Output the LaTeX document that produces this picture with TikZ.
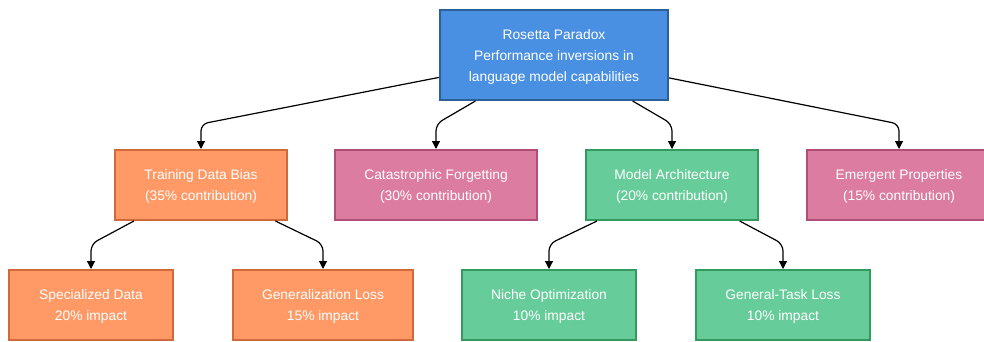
\documentclass[tikz,border=0pt]{standalone}
\usepackage{fontspec}
\setmainfont{Liberation Sans}
\usetikzlibrary{arrows.meta,calc}
\definecolor{rootfill}{HTML}{4A90E2}
\definecolor{rootdraw}{HTML}{2D5F99}
\definecolor{orfill}{HTML}{FF9966}
\definecolor{ordraw}{HTML}{D2693A}
\definecolor{pkfill}{HTML}{DB7CA0}
\definecolor{pkdraw}{HTML}{B04D78}
\definecolor{grfill}{HTML}{66CC99}
\definecolor{grdraw}{HTML}{33995F}
\tikzset{
  box/.style={draw, line width=2pt, text=white, align=center, inner sep=0pt,
    font=\fontsize{13.8}{21}\selectfont, minimum height=70pt},
  rootbox/.style={box, fill=rootfill, draw=rootdraw, minimum width=228pt, minimum height=90pt},
  orbox/.style={box, fill=orfill, draw=ordraw},
  pkbox/.style={box, fill=pkfill, draw=pkdraw},
  grbox/.style={box, fill=grfill, draw=grdraw},
  txt/.style={text=white, align=center, inner sep=0pt, font=\fontsize{13.8}{21}\selectfont},
  link/.style={draw, line width=1.2pt, rounded corners=7pt, -{Triangle[length=8pt,width=8pt]}}
}
\begin{document}
\begin{tikzpicture}[x=1pt,y=-1pt]
\useasboundingbox (0,0) rectangle (984,341);
\clip (0,0) rectangle (984,341);
\node[rootbox] (root) at (554,55) {};
\node[txt] (roott) at (554,56.5) {Rosetta Paradox\\Performance inversions in\\language model capabilities};
\node[orbox, minimum width=172pt] (tdb) at (201,185) {};
\node[txt] (tdbt) at (201,186.5) {Training Data Bias\\(35\% contribution)};
\node[pkbox, minimum width=202pt] (cf) at (436,185) {};
\node[txt] (cft) at (436,186.5) {Catastrophic Forgetting\\(30\% contribution)};
\node[grbox, minimum width=172pt] (ma) at (672,185) {};
\node[txt] (mat) at (672,186.5) {Model Architecture\\(20\% contribution)};
\node[pkbox, minimum width=184pt] (ep) at (899,185) {};
\node[txt] (ept) at (899,186.5) {Emergent Properties\\(15\% contribution)};
\node[orbox, minimum width=164pt] (sd) at (91,305) {};
\node[txt] (sdt) at (91,306.5) {Specialized Data\\20\% impact};
\node[orbox, minimum width=180pt] (gl) at (323,305) {};
\node[txt] (glt) at (323,306.5) {Generalization Loss\\15\% impact};
\node[grbox, minimum width=174pt] (no) at (549,305) {};
\node[txt] (not) at (549,306.5) {Niche Optimization\\10\% impact};
\node[grbox, minimum width=174pt] (gt) at (783,305) {};
\node[txt] (gtt) at (783,306.5) {General-Task Loss\\10\% impact};
\foreach \c in {tdb,cf,ma,ep}{
  \coordinate (k\c) at ($(\c.north)+(0,-25)$);
  \path[link] (root) -- (k\c) -- (\c);
}
\foreach \p/\c in {tdb/sd,tdb/gl,ma/no,ma/gt}{
  \coordinate (k\c) at ($(\c.north)+(0,-25)$);
  \path[link] (\p) -- (k\c) -- (\c);
}
\end{tikzpicture}
\end{document}
